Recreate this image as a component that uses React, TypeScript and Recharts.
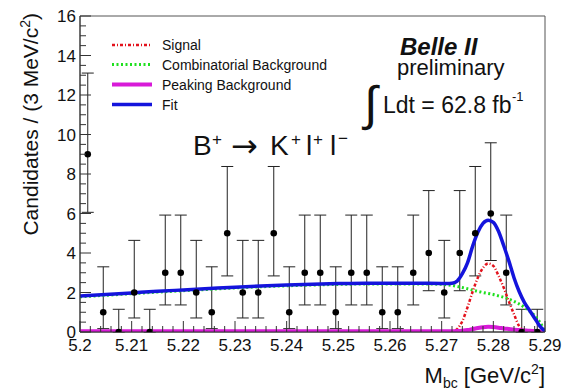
import React from "react";
import {
  ComposedChart,
  Line,
  Scatter,
  ErrorBar,
  XAxis,
  YAxis,
  ReferenceArea,
} from "recharts";

// ---------- data ----------
const binCenters = [
  5.2015, 5.2045, 5.2075, 5.2105, 5.2135, 5.2165, 5.2195, 5.2225, 5.2255, 5.2285,
  5.2315, 5.2345, 5.2375, 5.2405, 5.2435, 5.2465, 5.2495, 5.2525, 5.2555, 5.2585,
  5.2615, 5.2645, 5.2675, 5.2705, 5.2735, 5.2765, 5.2795, 5.2825, 5.2855, 5.2885,
];
const counts = [9, 1, 0, 2, 0, 3, 3, 2, 1, 5, 2, 2, 5, 1, 3, 3, 1, 3, 3, 1, 1, 3, 4, 2, 4, 5, 6, 3, 0, 0];
const errLow = [
  2.94, 0.83, 0, 1.29, 0, 1.63, 1.63, 1.29, 0.83, 2.16, 1.29, 1.29, 2.16, 0.83, 1.63,
  1.63, 0.83, 1.63, 1.63, 0.83, 0.83, 1.63, 1.91, 1.29, 1.91, 2.16, 2.38, 1.63, 0, 0,
];
const errHigh = [
  4.11, 2.3, 1.15, 2.64, 1.15, 2.92, 2.92, 2.64, 2.3, 3.38, 2.64, 2.64, 3.38, 2.3, 2.92,
  2.92, 2.3, 2.92, 2.92, 2.3, 2.3, 2.92, 3.16, 2.64, 3.16, 3.38, 3.58, 2.92, 1.15, 1.15,
];

const curveMass = [
  5.2, 5.205, 5.21, 5.215, 5.22, 5.225, 5.23, 5.235, 5.24, 5.245, 5.25, 5.255, 5.26, 5.265, 5.27,
  5.271, 5.272, 5.273, 5.274, 5.275, 5.276, 5.277, 5.278, 5.279, 5.28,
  5.281, 5.282, 5.283, 5.284, 5.285, 5.286, 5.287, 5.288, 5.289, 5.29,
];
const fitValues = [
  1.82, 1.9, 1.98, 2.06, 2.13, 2.2, 2.27, 2.33, 2.38, 2.42, 2.45, 2.47, 2.47, 2.47, 2.46,
  2.46, 2.47, 2.58, 2.95, 3.5, 4.35, 5.05, 5.5, 5.66, 5.55,
  5.1, 4.38, 3.6, 2.75, 2.05, 1.5, 1.1, 0.7, 0.3, 0.05,
];
const combValues = [
  1.78, 1.86, 1.94, 2.02, 2.09, 2.16, 2.23, 2.29, 2.34, 2.38, 2.41, 2.43, 2.43, 2.43, 2.42,
  2.39, 2.36, 2.31, 2.25, 2.19, 2.12, 2.06, 2.0, 1.95, 1.9,
  1.83, 1.76, 1.67, 1.55, 1.42, 1.25, 1.06, 0.82, 0.5, 0.02,
];
const signalValues = [
  0, 0, 0, 0, 0, 0, 0, 0, 0, 0, 0, 0, 0, 0, 0,
  0, 0.02, 0.15, 0.55, 1.25, 2.05, 2.75, 3.25, 3.47, 3.35,
  2.85, 2.25, 1.55, 0.9, 0.3, 0.08, 0.02, 0, 0, 0,
];
const peakingValues = [
  0.04, 0.04, 0.04, 0.04, 0.04, 0.04, 0.04, 0.04, 0.04, 0.04, 0.04, 0.04, 0.04, 0.04, 0.04,
  0.04, 0.04, 0.05, 0.07, 0.1, 0.15, 0.2, 0.24, 0.26, 0.25,
  0.22, 0.18, 0.15, 0.12, 0.1, 0.08, 0.06, 0.05, 0.04, 0.03,
];

const seriesNames = ["Signal", "Combinatorial Background", "Peaking Background", "Fit"];

const xMajorTicks = [5.2, 5.21, 5.22, 5.23, 5.24, 5.25, 5.26, 5.27, 5.28, 5.29];
const xTickLabels = ["5.2", "5.21", "5.22", "5.23", "5.24", "5.25", "5.26", "5.27", "5.28", "5.29"];
const yMajorTicks = [0, 2, 4, 6, 8, 10, 12, 14, 16];
const yTickLabels = ["0", "2", "4", "6", "8", "10", "12", "14", "16"];

// ---------- tables ----------
const curveTable = curveMass.map((m, i) => ({
  m,
  fit: fitValues[i],
  comb: combValues[i],
  sig: signalValues[i],
  peak: peakingValues[i],
}));
const pointTable = binCenters.map((m, i) => ({
  m,
  n: counts[i],
  err: [errLow[i], errHigh[i]],
}));

const xTicksAll: number[] = [];
for (let i = 0; i <= 45; i++) xTicksAll.push(Math.round((5.2 + i * 0.002) * 1000) / 1000);
const yTicksAll: number[] = [];
for (let i = 0; i <= 32; i++) yTicksAll.push(i * 0.5);

const FONT = '"Liberation Sans", Arial, Helvetica, sans-serif';
const COL = {
  sig: "#e3121c",
  comb: "#1fe01f",
  peak: "#d81ad8",
  fit: "#1414dc",
};

const YTick = (props: any) => {
  const { x, y, payload } = props;
  const v = payload.value;
  const idx = yMajorTicks.findIndex((t) => Math.abs(t - v) < 1e-6);
  const major = idx >= 0;
  return (
    <g>
      <line x1={x} x2={x + (major ? 11 : 6)} y1={y} y2={y} stroke="#333" strokeWidth={1} />
      {major && (
        <text x={x - 4} y={y + 6} textAnchor="end" fontSize={17} fontFamily={FONT} fill="#111">
          {yTickLabels[idx]}
        </text>
      )}
    </g>
  );
};

const XTick = (props: any) => {
  const { x, y, payload } = props;
  const v = payload.value;
  const idx = xMajorTicks.findIndex((t) => Math.abs(t - v) < 1e-6);
  const major = idx >= 0;
  return (
    <g>
      <line x1={x} x2={x} y1={y} y2={y - (major ? 11 : 6)} stroke="#333" strokeWidth={1} />
      {major && (
        <text x={x} y={y + 19} textAnchor="middle" fontSize={17} fontFamily={FONT} fill="#111">
          {xTickLabels[idx]}
        </text>
      )}
    </g>
  );
};

const Dot = (props: any) => {
  const { cx, cy } = props;
  if (cx == null || cy == null) return null;
  return <circle cx={cx} cy={cy} r={3.3} fill="#000" />;
};

export default function App() {
  return (
    <div style={{ position: "absolute", left: 0, top: 0, width: 566, height: 392, background: "#fff" }}>
      <ComposedChart
        width={566}
        height={392}
        data={curveTable}
        margin={{ top: 16, right: 21, bottom: 0, left: 0 }}
      >
        <XAxis
          dataKey="m"
          type="number"
          domain={[5.2, 5.29]}
          ticks={xTicksAll}
          interval={0}
          allowDataOverflow
          height={60}
          tickSize={0}
          tickMargin={0}
          tickLine={false}
          axisLine={{ stroke: "#333" }}
          tick={<XTick />}
        />
        <YAxis
          type="number"
          domain={[0, 16]}
          ticks={yTicksAll}
          interval={0}
          allowDataOverflow
          width={80}
          tickSize={0}
          tickMargin={0}
          tickLine={false}
          axisLine={{ stroke: "#333" }}
          tick={<YTick />}
        />
        <ReferenceArea x1={5.2} x2={5.29} y1={0} y2={16} fill="none" stroke="#555" strokeWidth={1} />
        <Scatter data={pointTable} dataKey="n" shape={<Dot />} isAnimationActive={false}>
          <ErrorBar dataKey="err" direction="y" width={6} stroke="#222" strokeWidth={1} isAnimationActive={false} />
        </Scatter>
        <Line
          dataKey="comb"
          type="monotone"
          stroke={COL.comb}
          strokeWidth={3}
          strokeDasharray="2 2.5"
          dot={false}
          isAnimationActive={false}
        />
        <Line
          dataKey="sig"
          type="monotone"
          stroke={COL.sig}
          strokeWidth={2.5}
          strokeDasharray="3 2 1 2"
          dot={false}
          isAnimationActive={false}
        />
        <Line
          dataKey="peak"
          type="monotone"
          stroke={COL.peak}
          strokeWidth={4}
          dot={false}
          isAnimationActive={false}
        />
        <Line
          dataKey="fit"
          type="monotone"
          stroke={COL.fit}
          strokeWidth={3.5}
          dot={false}
          isAnimationActive={false}
        />
      </ComposedChart>
      <svg
        width={566}
        height={392}
        style={{ position: "absolute", left: 0, top: 0, pointerEvents: "none" }}
        fontFamily={FONT}
      >
        {/* y title */}
        <text transform="rotate(-90)" x={-13} y={38} textAnchor="end" fontSize={21} fill="#111">
          Candidates / (3 MeV/c
          <tspan dy={-8} fontSize={14}>2</tspan>
          <tspan dy={8}>)</tspan>
        </text>
        {/* x title */}
        <text x={545} y={383} textAnchor="end" fontSize={22} fill="#111">
          M<tspan dy={5} fontSize={14}>bc</tspan>
          <tspan dy={-5}> [GeV/c</tspan>
          <tspan dy={-9} fontSize={14}>2</tspan>
          <tspan dy={9}>]</tspan>
        </text>
        {/* legend */}
        <line x1={112} x2={152} y1={45} y2={45} stroke={COL.sig} strokeWidth={2.5} strokeDasharray="3 2 1 2" />
        <line x1={112} x2={152} y1={64.5} y2={64.5} stroke={COL.comb} strokeWidth={3} strokeDasharray="2 2.5" />
        <line x1={112} x2={152} y1={84.5} y2={84.5} stroke={COL.peak} strokeWidth={4} />
        <line x1={112} x2={152} y1={104.5} y2={104.5} stroke={COL.fit} strokeWidth={3.5} />
        <text x={162} y={50} fontSize={14} fill="#111">{seriesNames[0]}</text>
        <text x={162} y={69.5} fontSize={14} fill="#111">{seriesNames[1]}</text>
        <text x={162} y={89.5} fontSize={14} fill="#111">{seriesNames[2]}</text>
        <text x={162} y={109.5} fontSize={14} fill="#111">{seriesNames[3]}</text>
        {/* Belle II */}
        <text x={400} y={55} fontSize={24} fontWeight="bold" fontStyle="italic" fill="#111">Belle II</text>
        <text x={397} y={75} fontSize={22} fill="#111">preliminary</text>
        <text x={364} y={120} fontSize={48} fill="#111">∫</text>
        <text x={383} y={113} fontSize={23} fill="#111">Ldt = 62.8 fb</text>
        <text x={512} y={101} fontSize={13} fill="#111">-1</text>
        {/* decay */}
        <text y={155} fontSize={28} fill="#111">
          <tspan x={193}>B</tspan>
          <tspan x={212} y={145} fontSize={17}>+</tspan>
          <tspan x={231} y={157} fontSize={32} fontFamily='"DejaVu Sans", sans-serif'>→</tspan>
          <tspan x={270} y={155}>K</tspan>
          <tspan x={291} y={145} fontSize={17}>+</tspan>
          <tspan x={306} y={155}>l</tspan>
          <tspan x={313} y={145} fontSize={17}>+</tspan>
          <tspan x={330} y={155}>l</tspan>
          <tspan x={338} y={144} fontSize={17}>−</tspan>
        </text>
      </svg>
    </div>
  );
}
